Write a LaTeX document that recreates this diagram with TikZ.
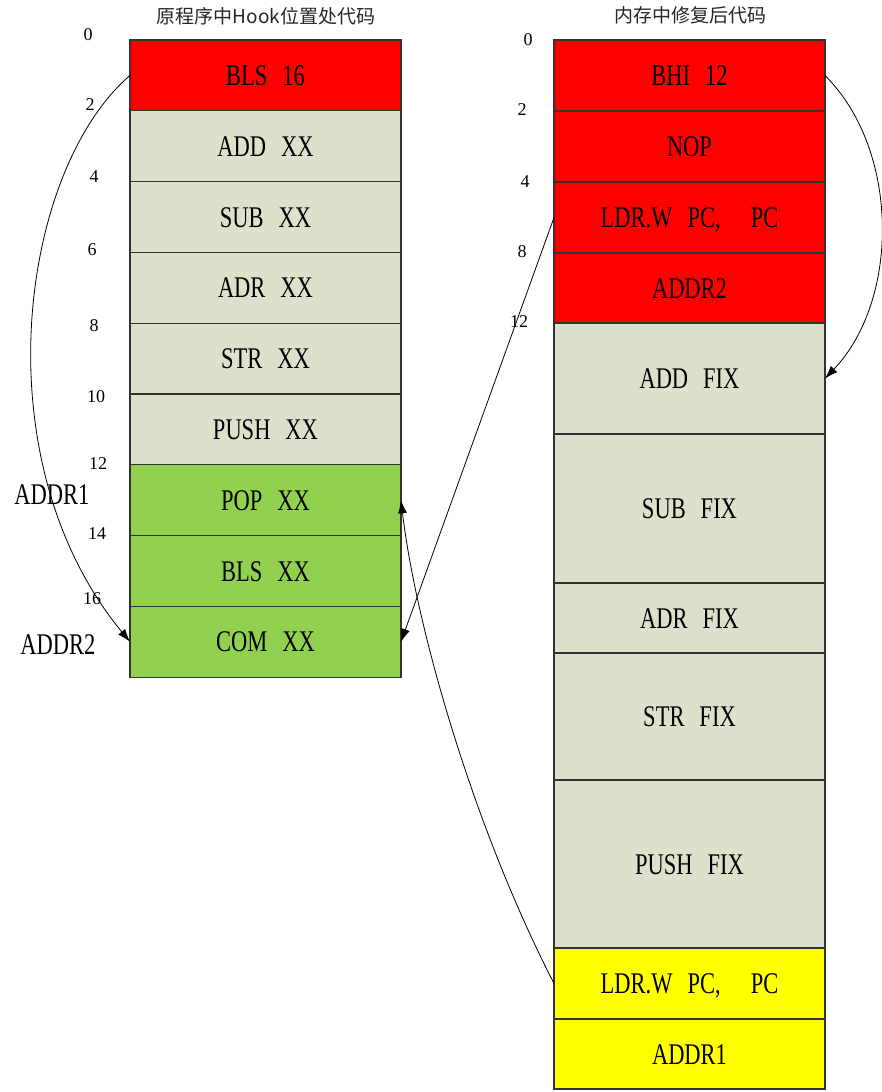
\documentclass[tikz,border=0pt]{standalone}
\usepackage{fontspec}
\setmainfont{Liberation Serif}
\newfontfamily\codefont{Liberation Serif}[FakeStretch=0.75]
\newfontfamily\cjkfont{Noto Sans CJK SC}
\usetikzlibrary{positioning}
\usetikzlibrary{arrows.meta}

\definecolor{hookred}{HTML}{FF0000}
\definecolor{hookgray}{HTML}{DDE1CC}
\definecolor{hookgreen}{HTML}{92D050}
\definecolor{hookyellow}{HTML}{FFFF00}

\tikzset{
  cell/.style={draw=black!80, line width=1.1pt, minimum width=271pt, minimum height=#1,
    inner sep=0pt, outer sep=0pt, text height=20pt, text depth=0pt,
    font=\codefont\fontsize{30}{30}\selectfont},
  cell/.default=70.8pt,
  num/.style={font=\fontsize{18}{18}\selectfont},
  title/.style={font=\cjkfont\fontsize{19}{19}\selectfont, text=black!85}
}

\begin{document}
\begin{tikzpicture}[x=1pt,y=-1pt,>={Latex[length=13pt,width=9pt]},line width=0.8pt]
      \useasboundingbox (0,0) rectangle (881,1092);
      % titles
      \node[title] (T1) at (266,16) {原程序中Hook位置处代码};
      \node[title] (T2) at (690,15) {内存中修复后代码};
      % original code at the hook
      \node[cell, fill=hookred, anchor=north] (A0) at (265.5,40) {BLS\enspace 16};
      \node[cell, fill=hookgray, below=0pt of A0] (A1) {ADD\enspace XX};
      \node[cell, fill=hookgray, below=0pt of A1] (A2) {SUB\enspace XX};
      \node[cell, fill=hookgray, below=0pt of A2] (A3) {ADR\enspace XX};
      \node[cell, fill=hookgray, below=0pt of A3] (A4) {STR\enspace XX};
      \node[cell, fill=hookgray, below=0pt of A4] (A5) {PUSH\enspace XX};
      \node[cell, fill=hookgreen, below=0pt of A5] (A6) {POP\enspace XX};
      \node[cell, fill=hookgreen, below=0pt of A6] (A7) {BLS\enspace XX};
      \node[cell, fill=hookgreen, below=0pt of A7] (A8) {COM\enspace XX};
      % fixed code in memory
      \node[cell=71pt, fill=hookred, anchor=north] (B0) at (689.5,40) {BHI\enspace 12};
      \node[cell=71pt, fill=hookred, below=0pt of B0] (B1) {NOP};
      \node[cell=71pt, fill=hookred, below=0pt of B1] (B2) {LDR.W\enspace PC,\quad PC};
      \node[cell=70pt, fill=hookred, below=0pt of B2] (B3) {ADDR2};
      \node[cell=111pt, fill=hookgray, below=0pt of B3] (B4) {ADD\enspace FIX};
      \node[cell=149pt, fill=hookgray, below=0pt of B4] (B5) {SUB\enspace FIX};
      \node[cell=70pt, fill=hookgray, below=0pt of B5] (B6) {ADR\enspace FIX};
      \node[cell=127pt, fill=hookgray, below=0pt of B6] (B7) {STR\enspace FIX};
      \node[cell=168pt, fill=hookgray, below=0pt of B7] (B8) {PUSH\enspace FIX};
      \node[cell=71pt, fill=hookyellow, below=0pt of B8] (B9) {LDR.W\enspace PC,\quad PC};
      \node[cell=70pt, fill=hookyellow, below=0pt of B9] (B10) {ADDR1};
      % offsets
      \node[num] (p0) at (88,35) {0};
      \node[num] (p2) at (90,105) {2};
      \node[num] (p4) at (94,177) {4};
      \node[num] (p6) at (92,250) {6};
      \node[num] (p8) at (94,326) {8};
      \node[num] (p10) at (96,397) {10};
      \node[num] (p12) at (98,464) {12};
      \node[num] (p14) at (97,534) {14};
      \node[num] (p16) at (92,599) {16};
      \node[num] (q0) at (528,40) {0};
      \node[num] (q2) at (522,110) {2};
      \node[num] (q4) at (525,182) {4};
      \node[num] (q8) at (522,252) {8};
      \node[num] (q12) at (519,322) {12};
      \node[font=\codefont\fontsize{30}{30}\selectfont] (L1) at (52,495) {ADDR1};
      \node[font=\codefont\fontsize{30}{30}\selectfont] (L2) at (58,645) {ADDR2};
      % jumps
      \draw[->] (A0.west) .. controls (20,170) and (-20,460) .. (A8.west);
      \draw[->] (B0.east) .. controls (900,150) and (900,300) .. (B4.east);
      \draw[->] (B2.west) -- (A8.east);
      \draw[->] (B9.west) .. controls (470,820) and (415,620) .. (A6.east);
    \end{tikzpicture}
\end{document}
